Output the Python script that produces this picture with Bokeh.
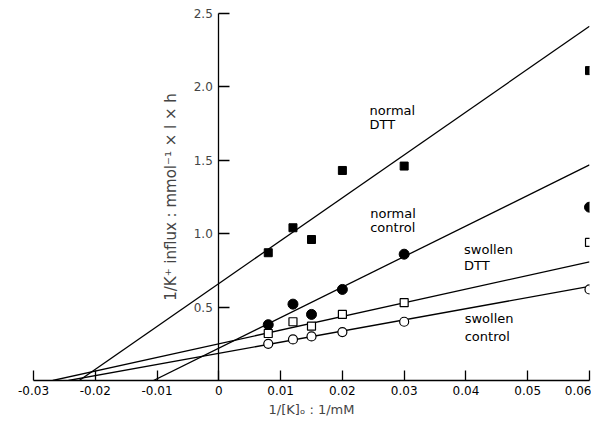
from bokeh.plotting import figure
from bokeh.models import Range1d, LinearAxis, FixedTicker, ColumnDataSource
from bokeh.embed import file_html
from bokeh.resources import INLINE
from bokeh.core.properties import value

# ---- data ----
inv_k = [0.008, 0.012, 0.015, 0.02, 0.03, 0.06]          # 1/[K]o (1/mM)
normal_dtt = [0.87, 1.04, 0.96, 1.43, 1.46, 2.11]
normal_control = [0.38, 0.52, 0.45, 0.62, 0.86, 1.18]
swollen_dtt = [0.32, 0.40, 0.37, 0.45, 0.53, 0.94]
swollen_control = [0.25, 0.28, 0.30, 0.33, 0.40, 0.62]

# fitted regression lines (Lineweaver-Burk): intercept, slope
fit_intercept = [0.66, 0.22, 0.25, 0.185]
fit_slope = [29.2, 20.8, 9.3, 7.6]
fit_x_end = 0.06

x_ticks = [-0.03, -0.02, -0.01, 0.0, 0.01, 0.02, 0.03, 0.04, 0.05, 0.06]
x_tick_labels = ["-0.03", "-0.02", "-0.01", "0", "0.01", "0.02", "0.03", "0.04", "0.05", "0.06"]
y_ticks = [0.5, 1.0, 1.5, 2.0, 2.5]
y_tick_labels = ["0.5", "1.0", "1.5", "2.0", "2.5"]

label_text = ["normal", "DTT", "normal", "control", "swollen", "DTT", "swollen", "control"]
label_x = [0.0244, 0.0244, 0.0245, 0.0245, 0.0397, 0.0397, 0.0398, 0.0398]
label_y = [1.84, 1.74, 1.14, 1.045, 0.89, 0.78, 0.42, 0.30]

FONT = "DejaVu Sans"

p = figure(width=591, height=419, output_backend="svg", toolbar_location=None,
           x_range=Range1d(-0.03, 0.06), y_range=Range1d(0, 2.56),
           y_axis_location=None, min_border_left=33, min_border_right=2,
           min_border_top=4, min_border_bottom=37)
p.outline_line_color = None
p.xgrid.visible = False
p.ygrid.visible = False
p.background_fill_color = "white"
p.border_fill_color = "white"

# x axis
xa = p.xaxis[0]
xa.ticker = FixedTicker(ticks=x_ticks)
xa.major_label_overrides = {t: l for t, l in zip(x_ticks, x_tick_labels)}
xa.minor_tick_line_color = None
xa.major_tick_in = 10
xa.major_tick_out = 0
xa.major_tick_line_width = 1.3
xa.axis_line_width = 1.3
xa.major_label_standoff = 5
xa.major_label_text_font = FONT
xa.major_label_text_font_size = "12px"
xa.major_label_text_color = "black"
xa.axis_label = "1/[K]\u2092 : 1/mM"
xa.axis_label_text_font = FONT
xa.axis_label_text_font_size = "13px"
xa.axis_label_text_font_style = "normal"
xa.axis_label_standoff = 4

# y axis crossing at x = 0
ya = LinearAxis(fixed_location=0, ticker=FixedTicker(ticks=y_ticks), bounds=(0, 2.5))
ya.major_label_overrides = {t: l for t, l in zip(y_ticks, y_tick_labels)}
ya.minor_tick_line_color = None
ya.major_tick_in = 11
ya.major_tick_out = 0
ya.major_tick_line_width = 1.3
ya.axis_line_width = 1.3
ya.major_label_standoff = 6
ya.major_label_text_font = FONT
ya.major_label_text_font_size = "12px"
ya.axis_label = "1/K\u207a influx : mmol\u207b\u00b9 \u00d7 l \u00d7 h"
ya.axis_label_text_font = FONT
ya.axis_label_text_font_size = "15px"
ya.axis_label_text_font_style = "normal"
ya.axis_label_standoff = 10
p.add_layout(ya, "left")

# regression lines from x-intercept to end
xs = [[-b / m, fit_x_end] for b, m in zip(fit_intercept, fit_slope)]
ys = [[0.0, b + m * fit_x_end] for b, m in zip(fit_intercept, fit_slope)]
p.multi_line(xs, ys, line_color="black", line_width=1.3)

# data points
p.scatter(inv_k, normal_dtt, marker="square", size=8, fill_color="black", line_color="black")
p.scatter(inv_k, normal_control, marker="circle", size=10, fill_color="black", line_color="black")
p.scatter(inv_k, swollen_dtt, marker="square", size=8, fill_color="white", line_color="black", line_width=1.2)
p.scatter(inv_k, swollen_control, marker="circle", size=9, fill_color="white", line_color="black", line_width=1.2)

# labels
src = ColumnDataSource(dict(x=label_x, y=label_y, t=label_text))
p.text("x", "y", text="t", source=src, text_font=value(FONT), text_font_size="13px",
       text_align="left", text_baseline="middle", text_color="black")

open("out.html", "w").write(file_html(p, INLINE))
